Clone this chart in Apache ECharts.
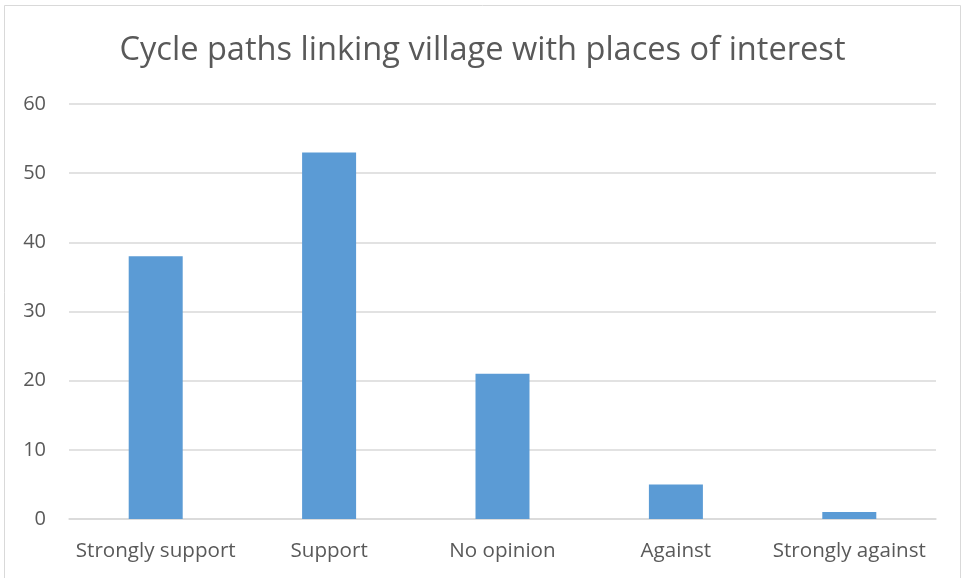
<!DOCTYPE html>
<html><head><meta charset="utf-8">
<script src="https://cdn.jsdelivr.net/npm/echarts@6/dist/echarts.min.js"></script>
<style>html,body{margin:0;padding:0;background:#fff}#c{width:965px;height:578px}</style>
</head><body><div id="c"></div>
<script>
const categories = ['Strongly support', 'Support', 'No opinion', 'Against', 'Strongly against'];
const values = [38, 53, 21, 5, 1];
const yTicks = { min: 0, max: 60, interval: 10 };

const chart = echarts.init(document.getElementById('c'), null, { renderer: 'canvas' });
chart.setOption({
  animation: false,
  backgroundColor: '#fff',
  graphic: [{ type: 'rect', shape: { x: 4.5, y: 5.5, width: 956, height: 580 }, style: { fill: 'none', stroke: '#d9d9d9', lineWidth: 1 } }],
  title: {
    text: 'Cycle paths linking village with places of interest',
    left: 'center', top: 29,
    textStyle: { fontFamily: 'Open Sans', fontSize: 32.6, fontWeight: 'normal', color: '#595959' }
  },
  grid: { left: 69, right: 29, top: 104, bottom: 59, containLabel: false },
  xAxis: {
    type: 'category', data: categories,
    axisLine: { lineStyle: { color: '#d9d9d9', width: 1.5 } },
    axisTick: { show: false },
    axisLabel: { color: '#595959', fontFamily: 'Open Sans', fontSize: 20.6, margin: 22, interval: 0 }
  },
  yAxis: {
    type: 'value', min: yTicks.min, max: yTicks.max, interval: yTicks.interval,
    axisLine: { show: false }, axisTick: { show: false },
    splitLine: { lineStyle: { color: '#d9d9d9', width: 1.5 } },
    axisLabel: { color: '#595959', fontFamily: 'Open Sans', fontSize: 20, margin: 23 }
  },
  series: [{
    type: 'bar', data: values, barWidth: 54,
    itemStyle: { color: '#5b9bd5' }
  }]
});
</script></body></html>
